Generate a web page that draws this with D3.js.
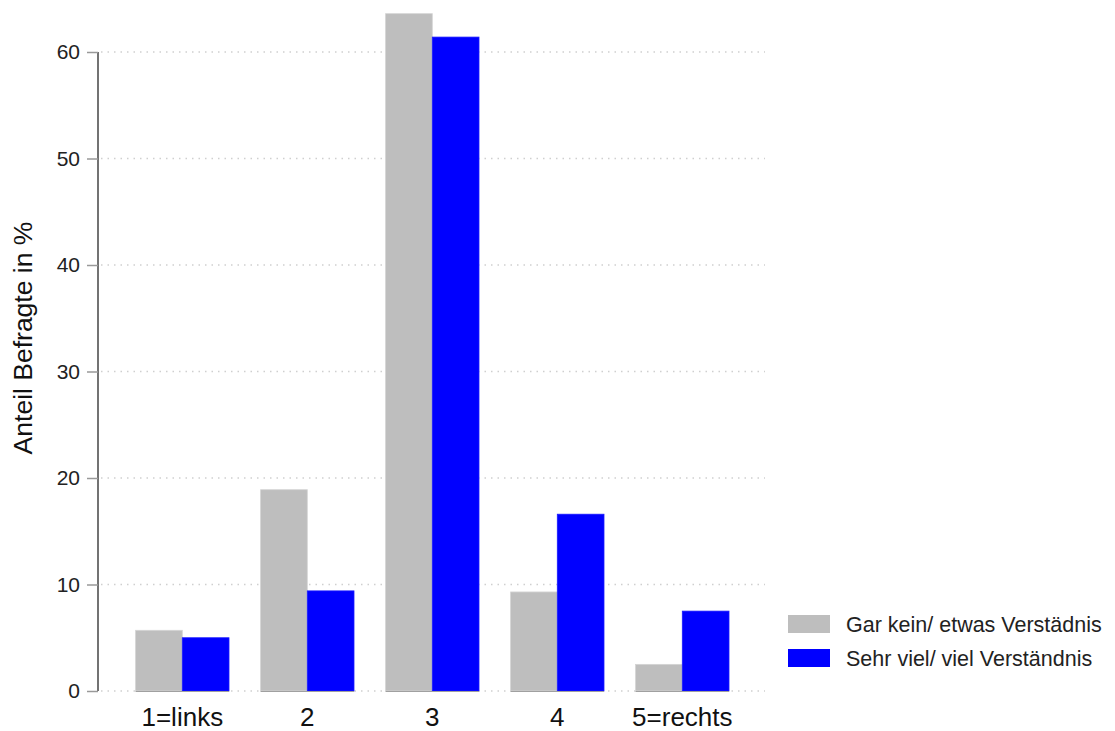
<!DOCTYPE html>
<html><head><meta charset="utf-8">
<script src="https://cdn.jsdelivr.net/npm/d3@7"></script>
<style>body{margin:0;background:#fff;} text{font-family:"Liberation Sans",Arial,sans-serif;}</style>
</head><body><svg id="c" width="1115" height="731"></svg>
<script>
const categories = ["1=links","2","3","4","5=rechts"];
const seriesNames = ["Gar kein/ etwas Verstädnis","Sehr viel/ viel Verständnis"];
const greyValues = [5.7, 18.9, 63.6, 9.3, 2.5];
const blueValues = [5.0, 9.4, 61.4, 16.6, 7.5];
const yTicks = [0,10,20,30,40,50,60];
const colors = ["#bebebe","#0000ff"];

const svg = d3.select("#c");
const y = d3.scaleLinear().domain([0,60]).range([691,52]);
const x = d3.scaleBand().domain(categories).range([119.8,744.8]).paddingInner(0.2528).paddingOuter(0.1264);
const xs = d3.scaleBand().domain([0,1]).range([0,x.bandwidth()]);

// gridlines
svg.append("g").selectAll("line").data(yTicks).join("line")
  .attr("x1",101).attr("x2",765).attr("y1",d=>y(d)).attr("y2",d=>y(d))
  .attr("stroke","#cfcfcf").attr("stroke-width",1.3).attr("stroke-dasharray","1.5,5");

// bars
const series = [greyValues, blueValues];
series.forEach((vals,si)=>{
  svg.append("g").selectAll("rect").data(vals).join("rect")
    .attr("x",(d,i)=>x(categories[i])+xs(si))
    .attr("width",xs.bandwidth())
    .attr("y",d=>y(d)).attr("height",d=>y(0)-y(d))
    .attr("fill",colors[si])
    .attr("stroke", si===0 ? "#d4d4d4" : "#1a1aff").attr("stroke-width",0.8);
});
// baseline under bars
svg.append("g").selectAll("line").data(categories).join("line")
  .attr("x1",d=>x(d)).attr("x2",d=>x(d)+x.bandwidth())
  .attr("y1",y(0)+0.5).attr("y2",y(0)+0.5).attr("stroke","#a0a0a0").attr("stroke-width",1);

// y axis
const ya = d3.axisLeft(y).tickValues(yTicks).tickSize(11).tickPadding(7);
const yg = svg.append("g").attr("transform","translate(98,0)").call(ya);
yg.select(".domain").attr("stroke","#444").attr("stroke-width",1.5).attr("d","M0,"+y(0)+"V"+y(60));
yg.selectAll(".tick line").attr("stroke","#999").attr("stroke-width",1.5);
yg.selectAll(".tick text").attr("font-size",21).attr("fill","#222").attr("font-family","Liberation Sans, Arial, sans-serif");

// x axis labels
const xa = d3.axisBottom(x).tickSize(0).tickPadding(17);
const xg = svg.append("g").attr("transform","translate(0,"+y(0)+")").call(xa);
xg.select(".domain").remove();
xg.selectAll(".tick text").attr("font-size",26).attr("fill","#111").attr("font-family","Liberation Sans, Arial, sans-serif");

// y title
svg.append("text").attr("transform","translate(32,338) rotate(-90)")
  .attr("text-anchor","middle").attr("font-size",26.5).attr("fill","#111").text("Anteil Befragte in %");

// legend
const lg = svg.append("g");
seriesNames.forEach((n,i)=>{
  lg.append("rect").attr("x",788).attr("y",615+i*34).attr("width",42).attr("height",18).attr("fill",colors[i]);
  lg.append("text").attr("x",846).attr("y",632+i*33.5).attr("font-size",21.5).attr("fill","#222").text(n);
});
</script></body></html>
